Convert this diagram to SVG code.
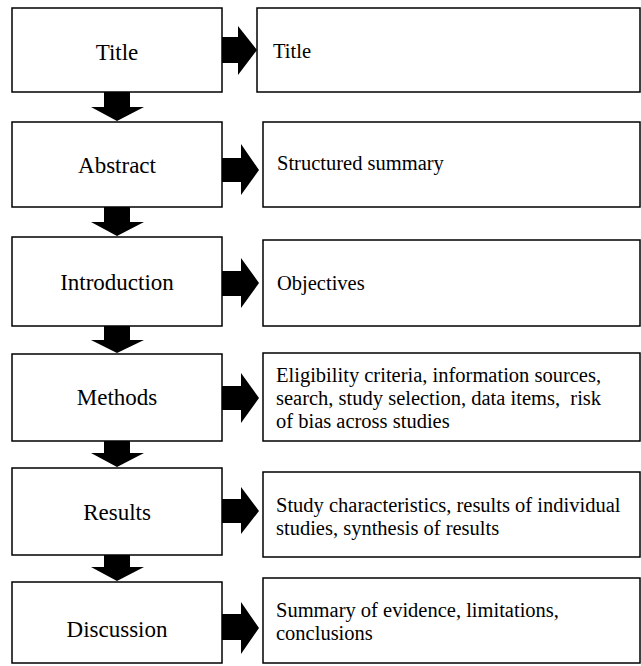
<svg xmlns="http://www.w3.org/2000/svg" width="641" height="666" viewBox="0 0 641 666">
<style>
.box{fill:#fff;stroke:#000;stroke-width:1.5}
.lbl{font-family:"Liberation Serif","Times New Roman",serif;font-size:23px;fill:#000;text-anchor:middle}
.txt{font-family:"Liberation Serif","Times New Roman",serif;font-size:20.5px;fill:#000}
.arr{fill:#000;stroke:none}
</style>
<rect width="641" height="666" fill="#fff"/>
<g id="connectors">
<polygon class="arr" points="222,37 238,37 238,26 257,50 238,75 238,63 222,63"/>
<polygon class="arr" points="222,158 241,158 241,144 259,170 241,195 241,182 222,182"/>
<polygon class="arr" points="222,271 241,271 241,258 259,283 241,308 241,296 222,296"/>
<polygon class="arr" points="222,386 241,386 241,373 259,398 241,423 241,410 222,410"/>
<polygon class="arr" points="222,499 241,499 241,487 259,511 241,534 241,523 222,523"/>
<polygon class="arr" points="222,614 241,614 241,602 259,628 241,654 241,640 222,640"/>
<polygon class="arr" points="104,92 130,92 130,107 144,107 117,121 91,107 104,107"/>
<polygon class="arr" points="104,207 130,207 130,222 144,222 117,236 91,222 104,222"/>
<polygon class="arr" points="104,326 130,326 130,340 144,340 117,353 91,340 104,340"/>
<polygon class="arr" points="104,441 130,441 130,453 144,453 117,467 91,453 104,453"/>
<polygon class="arr" points="104,555 130,555 130,567 144,567 117,581 91,567 104,567"/>
</g>
<g id="n-title"><rect class="box" x="12" y="8" width="210" height="84"/><text class="lbl" x="117" y="60">Title</text></g>
<g id="n-abstract"><rect class="box" x="12" y="122" width="210" height="85"/><text class="lbl" x="117" y="173">Abstract</text></g>
<g id="n-intro"><rect class="box" x="12" y="237" width="210" height="89"/><text class="lbl" x="117" y="290">Introduction</text></g>
<g id="n-methods"><rect class="box" x="12" y="354" width="210" height="87"/><text class="lbl" x="117" y="405">Methods</text></g>
<g id="n-results"><rect class="box" x="12" y="468" width="210" height="87"/><text class="lbl" x="117" y="520">Results</text></g>
<g id="n-discussion"><rect class="box" x="12" y="582" width="210" height="81"/><text class="lbl" x="117" y="637">Discussion</text></g>
<g id="r-title"><rect class="box" x="257" y="8" width="383" height="84"/><text class="txt" x="273" y="58">Title</text></g>
<g id="r-abstract"><rect class="box" x="263" y="122" width="377" height="85"/><text class="txt" x="277" y="170">Structured summary</text></g>
<g id="r-intro"><rect class="box" x="263" y="240" width="377" height="86"/><text class="txt" x="277" y="290">Objectives</text></g>
<g id="r-methods"><rect class="box" x="263" y="353" width="377" height="88"/><text class="txt" x="276" y="382">Eligibility criteria, information sources,</text><text class="txt" x="276" y="405" xml:space="preserve">search, study selection, data items,  risk</text><text class="txt" x="276" y="428">of bias across studies</text></g>
<g id="r-results"><rect class="box" x="263" y="472" width="377" height="85"/><text class="txt" x="276" y="512">Study characteristics, results of individual</text><text class="txt" x="276" y="535">studies, synthesis of results</text></g>
<g id="r-discussion"><rect class="box" x="263" y="578" width="377" height="85"/><text class="txt" x="276" y="617">Summary of evidence, limitations,</text><text class="txt" x="276" y="640">conclusions</text></g>
</svg>
